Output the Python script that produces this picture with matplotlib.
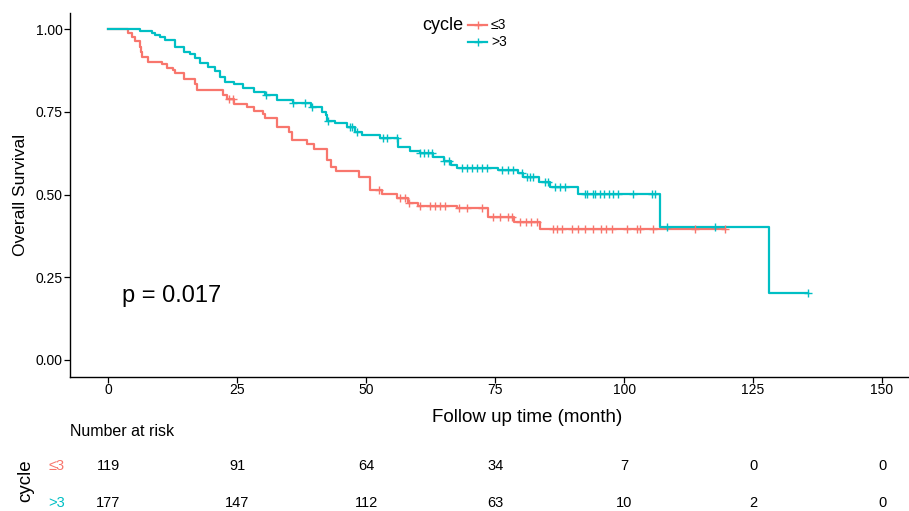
import numpy as np
import matplotlib
matplotlib.use("Agg")
import matplotlib.pyplot as plt
from matplotlib.lines import Line2D

plt.rcParams['font.family'] = ['Liberation Sans', 'DejaVu Sans']

# ---------------- data ----------------
groups = ["≤3", ">3"]
colors = ["#F8766D", "#00BFC4"]

t_low = [0, 3.8, 4.6, 5.2, 6.1, 6.3, 6.6, 7.8, 10.4, 11.4, 12.5, 13.0, 14.6, 16.9, 17.3,
         22.2, 23.0, 24.3, 26.9, 28.3, 30.0, 30.4, 32.8, 35.0, 35.7, 38.5, 39.8, 42.4,
         43.2, 44.2, 48.6, 50.8, 53.0, 56.0, 58.1, 60.1, 67.6, 73.6, 78.6, 83.7]
s_low = [1.0, .987, .975, .965, .945, .931, .917, .899, .893, .883, .876, .868, .848, .835, .816,
         .800, .790, .773, .763, .753, .742, .730, .705, .690, .665, .652, .638, .604,
         .584, .570, .553, .514, .503, .489, .475, .465, .458, .431, .416, .395]
end_low = 119.6
cens_low = [23.4, 24.2, 52.5, 56.5, 57.5, 58.3, 60.5, 62.4, 63.4, 64.3, 65.3, 68.0, 69.5,
            72.4, 74.5, 76.0, 77.5, 78.3, 79.8, 81.0, 82.0, 83.1, 86.2, 87.0, 88.0, 90.0,
            91.0, 92.4, 94.0, 95.5, 96.5, 97.7, 100.5, 102.5, 103.0, 105.6, 113.8, 119.6]

t_high = [0, 6.2, 8.5, 9.1, 10.1, 11.0, 13.0, 14.6, 15.9, 16.9, 17.8, 19.4, 20.7, 21.7,
          22.7, 24.3, 26.2, 28.2, 30.4, 32.7, 35.9, 39.4, 41.4, 42.2, 42.5, 44.0, 46.3,
          47.8, 49.2, 52.7, 56.1, 58.5, 60.5, 63.0, 65.0, 66.5, 67.6, 75.5, 79.4, 80.5,
          83.5, 85.7, 91.0, 107.0, 128.0]
s_high = [1.0, .995, .989, .982, .975, .967, .947, .931, .924, .911, .896, .886, .874, .856,
          .841, .834, .821, .811, .801, .787, .777, .765, .750, .740, .722, .715, .705,
          .690, .680, .670, .644, .632, .624, .612, .600, .589, .581, .574, .564, .552,
          .537, .522, .502, .401, .201]
end_high = 135.6
cens_high = [30.5, 35.9, 38.1, 39.6, 42.7, 46.9, 47.3, 48.2, 53.3, 54.0, 55.9, 60.5, 61.3,
             62.0, 62.8, 65.0, 66.0, 68.5, 69.5, 70.5, 71.5, 72.5, 73.5, 76.3, 77.5, 78.5,
             80.2, 81.2, 81.7, 82.4, 84.7, 85.3, 86.6, 87.6, 88.6, 92.4, 92.8, 94.0, 94.4,
             95.4, 96.2, 97.0, 97.8, 98.8, 101.8, 105.4, 106.0, 108.3, 117.6, 135.6]

risk_times = [0, 25, 50, 75, 100, 125, 150]
risk_low = [119, 91, 64, 34, 7, 0, 0]
risk_high = [177, 147, 112, 63, 10, 2, 0]

p_text = "p = 0.017"

# ---------------- figure ----------------
W, H = 909, 511
fig = plt.figure(figsize=(W / 100, H / 100), dpi=100)

def fx(px):
    return px / W

def fy(py):
    return 1 - py / H

ax_left, ax_right = 69.5, 920.7
ax_top, ax_bot = 12.5, 376.5
ax = fig.add_axes([fx(ax_left), fy(ax_bot), fx(ax_right - ax_left), (ax_bot - ax_top) / H])
ax.set_xlim(-7.5, 157.5)
ax.set_ylim(-0.05, 1.05)

series = [(t_low, s_low, end_low, cens_low), (t_high, s_high, end_high, cens_high)]
for (t, s, end, cens), c in zip(series, colors):
    tt = list(t) + [end]
    ss = list(s) + [s[-1]]
    ax.step(tt, ss, where='post', color=c, lw=1.6, zorder=3)
    idx = np.searchsorted(np.array(t), np.array(cens), side='right') - 1
    cy = np.array(s)[idx]
    ax.plot(cens, cy, ls='none', marker='+', ms=6, mew=1.0, color=c, zorder=4)

for sp in ['top', 'right']:
    ax.spines[sp].set_visible(False)
for sp in ['left', 'bottom']:
    ax.spines[sp].set_linewidth(1.0)
ax.set_xticks(risk_times)
ax.set_yticks([0, 0.25, 0.5, 0.75, 1.0])
ax.set_yticklabels(["0.00", "0.25", "0.50", "0.75", "1.00"])
ax.tick_params(axis='both', direction='out', length=4, width=0.9, labelsize=10,
               colors='black', pad=1.0)
ax.set_ylabel("Overall Survival", fontsize=12.5, labelpad=5)

ax.text(2.7, 0.193, p_text, fontsize=17, ha='left', va='center')

# legend (ggplot-like, title on left)
fig.text(fx(422), fy(25.5), "cycle", fontsize=13, ha='left', va='center')
for i, (g, c) in enumerate(zip(groups, colors)):
    yy = fy(25 + 17 * i)
    fig.add_artist(Line2D([fx(468), fx(487)], [yy, yy], color=c, lw=1.6,
                          transform=fig.transFigure))
    fig.add_artist(Line2D([fx(477.5)], [yy], marker='+', ms=6, mew=1.0, color=c,
                          transform=fig.transFigure))
    fig.text(fx(491), yy, g, fontsize=10, ha='left', va='center')

# x label
fig.text(fx(527.5), fy(418), "Follow up time (month)", fontsize=13.5, ha='center', va='center')

# risk table
fig.text(fx(70), fy(431), "Number at risk", fontsize=11.5, ha='left', va='center')
row_y = [466, 503]
for vals, g, c, py in zip([risk_low, risk_high], groups, colors, row_y):
    yv = fy(py)
    fig.text(fx(57), yv, g, fontsize=10.5, color=c, ha='center', va='center')
    for t, v in zip(risk_times, vals):
        xd = ax.transData.transform((t, 0))[0]
        fig.text(xd / W, yv, str(v), fontsize=10.5, ha='center', va='center')
fig.text(fx(26), fy(481), "cycle", fontsize=13.5, rotation=90, ha='center', va='center')

fig.savefig("out.png", dpi=100)
